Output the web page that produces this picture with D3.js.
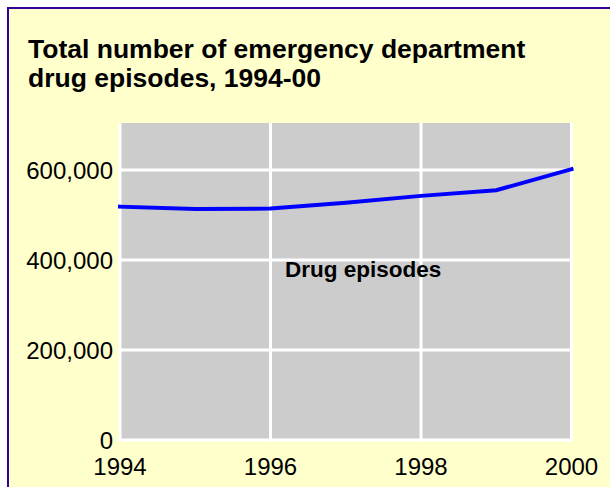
<!DOCTYPE html>
<html>
<head>
<meta charset="utf-8">
<script src="https://cdn.jsdelivr.net/npm/d3@7"></script>
<style>
  html, body { margin: 0; padding: 0; background: #ffffff; }
  svg { display: block; }
  text { font-family: "Liberation Sans", Arial, sans-serif; fill: #000; }
</style>
</head>
<body>
<div id="chart"></div>
<script>
// data
const years = [1994, 1995, 1996, 1997, 1998, 1999, 2000];
const episodes = [518500, 513600, 514300, 527000, 542500, 554900, 601800];
const yTicks = [0, 200000, 400000, 600000];
const xTicks = [1994, 1996, 1998, 2000];
const titleLines = ["Total number of emergency department", "drug episodes, 1994-00"];
const seriesLabel = "Drug episodes";

const width = 610, height = 487;

const svg = d3.select("#chart").append("svg")
    .attr("width", width)
    .attr("height", height);

// panel with the thin purple frame
svg.append("rect")
    .attr("x", 8).attr("y", 8)
    .attr("width", 700).attr("height", 600)
    .attr("fill", "#ffffcc")
    .attr("stroke", "#330099")
    .attr("stroke-width", 2);

svg.selectAll("text.title")
    .data(titleLines).enter()
    .append("text")
    .attr("class", "title")
    .attr("x", 28)
    .attr("y", (d, i) => 58 + i * 29)
    .style("font-size", "26.5px")
    .style("font-weight", "bold")
    .text(d => d);

const x = d3.scaleLinear().domain([1994, 2000]).range([120, 571.5]);
const y = d3.scaleLinear().domain([0, 700000]).range([440, 125]);

// grey plot area
svg.append("rect")
    .attr("x", x(1994))
    .attr("y", y(700000) - 2)
    .attr("width", x(2000) - x(1994))
    .attr("height", y(0) - y(700000) + 2)
    .attr("fill", "#cccccc");

// white grid
svg.selectAll("line.vgrid")
    .data(xTicks).enter()
    .append("line")
    .attr("class", "vgrid")
    .attr("x1", d => x(d)).attr("x2", d => x(d))
    .attr("y1", y(700000) - 2).attr("y2", y(0) + 1.5)
    .attr("stroke", "#ffffff")
    .attr("stroke-width", 3);

svg.selectAll("line.hgrid")
    .data(yTicks).enter()
    .append("line")
    .attr("class", "hgrid")
    .attr("x1", x(1994) - 1.5).attr("x2", x(2000) + 1.5)
    .attr("y1", d => y(d)).attr("y2", d => y(d))
    .attr("stroke", "#ffffff")
    .attr("stroke-width", 3);

// axis labels
const fmt = d3.format(",");
svg.selectAll("text.ylab")
    .data(yTicks).enter()
    .append("text")
    .attr("class", "ylab")
    .attr("x", 113)
    .attr("y", d => y(d) + 8.5)
    .attr("text-anchor", "end")
    .style("font-size", "24px")
    .text(d => fmt(d));

svg.selectAll("text.xlab")
    .data(xTicks).enter()
    .append("text")
    .attr("class", "xlab")
    .attr("x", d => x(d))
    .attr("y", 475)
    .attr("text-anchor", "middle")
    .style("font-size", "24px")
    .text(d => d);

// the series
const line = d3.line()
    .x((d, i) => x(years[i]))
    .y(d => y(d));

svg.append("path")
    .datum(episodes)
    .attr("d", line)
    .attr("fill", "none")
    .attr("stroke", "#0000ff")
    .attr("stroke-width", 4)
    .attr("stroke-linecap", "square");

svg.append("text")
    .attr("x", 285)
    .attr("y", 277)
    .style("font-size", "22.5px")
    .style("font-weight", "bold")
    .text(seriesLabel);
</script>
</body>
</html>
